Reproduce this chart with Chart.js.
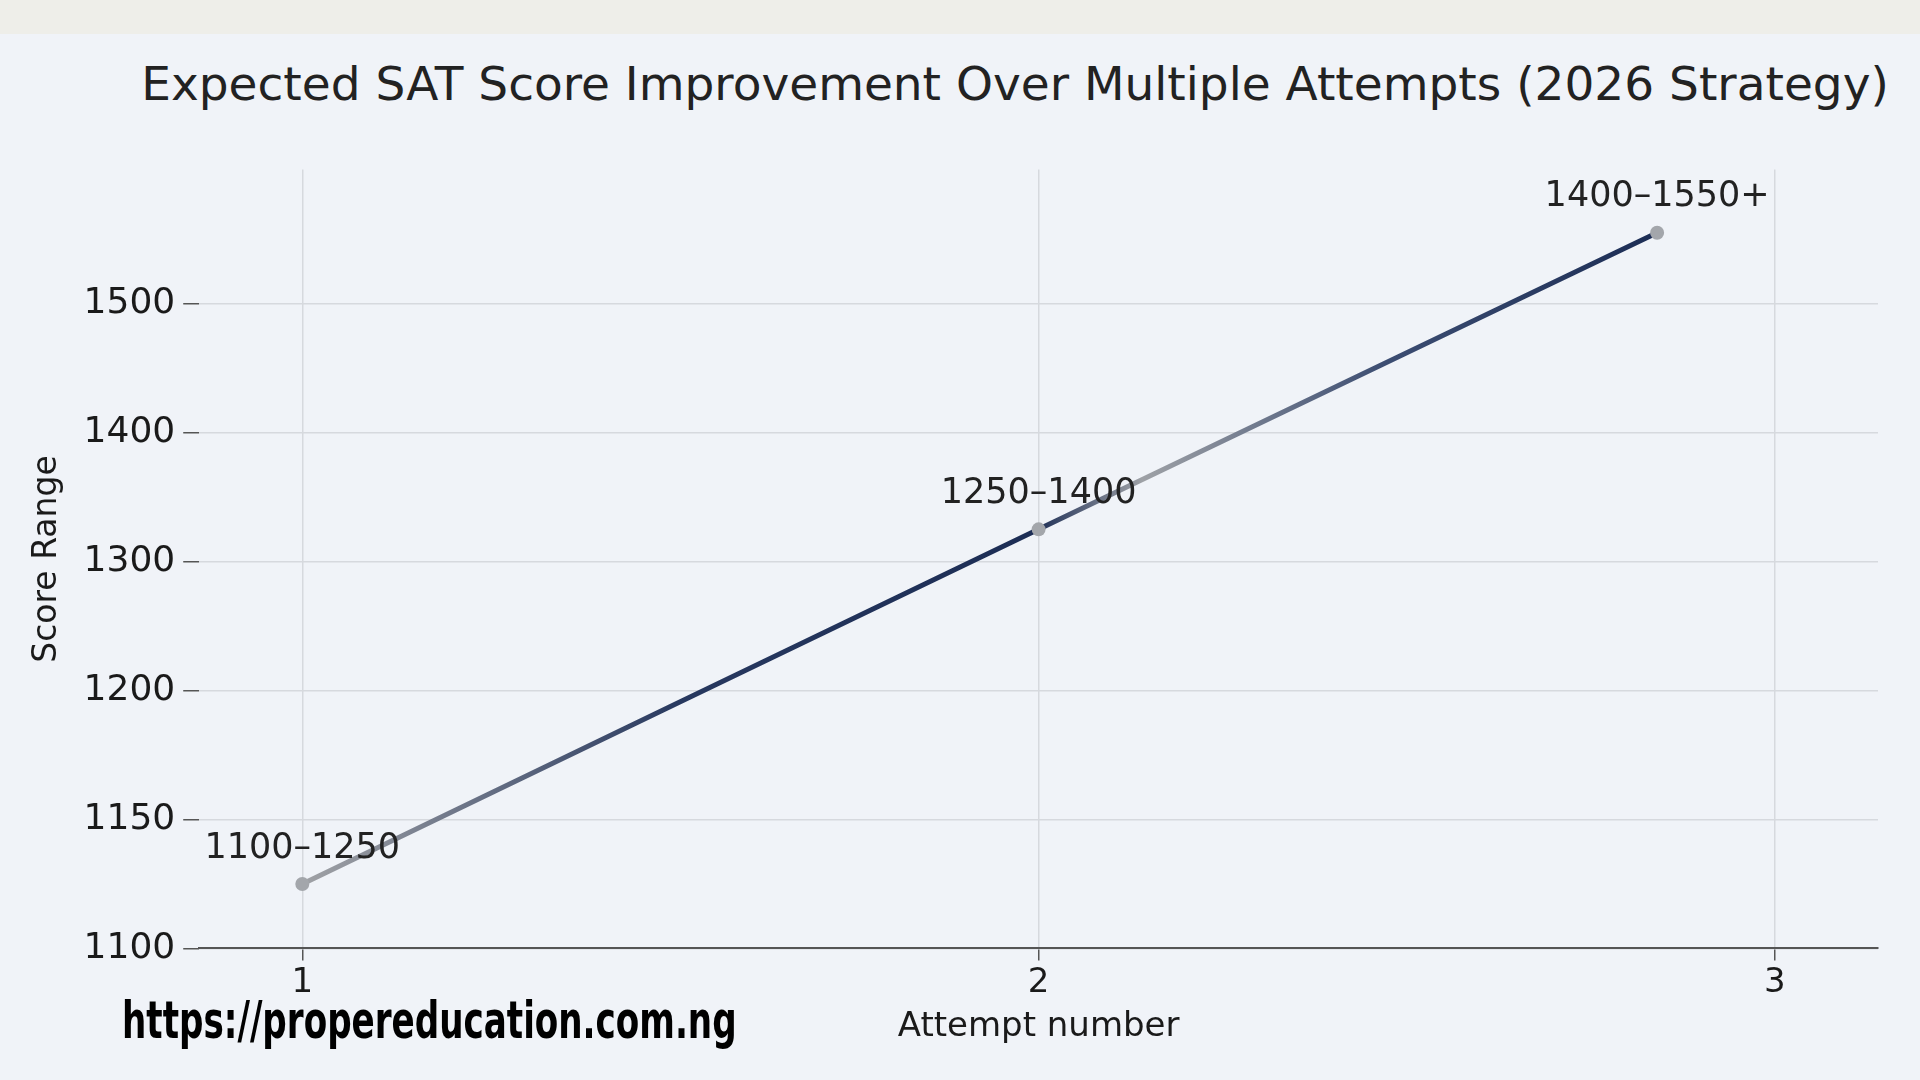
<!DOCTYPE html>
<html><head><meta charset="utf-8">
<script src="https://cdn.jsdelivr.net/npm/chart.js@4"></script>
<style>
html,body{margin:0;padding:0;width:1920px;height:1080px;background:#eeeee9;overflow:hidden;font-family:"DejaVu Sans",sans-serif}
#panel{position:absolute;left:0;top:34px;width:1920px;height:1046px;background:#f0f3f8}
#title{position:absolute;left:0;width:2030px;top:56px;text-align:center;font-size:47px;color:#222;font-family:"DejaVu Sans"}
#wrap{position:absolute;left:24px;top:140px;width:1872px;height:940px}
#wm{position:absolute;left:122px;top:990px;font-family:"Liberation Sans Narrow","DejaVu Sans Condensed",sans-serif;font-weight:bold;font-size:52px;color:#000;transform:scaleX(0.73);transform-origin:left}
</style></head><body>
<div id="panel"></div>
<div id="title">Expected SAT Score Improvement Over Multiple Attempts (2026 Strategy)</div>
<div id="wrap"><canvas id="c"></canvas></div>
<div id="wm">https://propereducation.com.ng</div>
<script>
const attempts=[1,2,2.84];
const scores=[1125,1325,1555];
const rangeLabels=["1100–1250","1250–1400","1400–1550+"];
const yTicks=[1100,1150,1200,1300,1400,1500];
const xTicks=[1,2,3];
function toIdx(v){for(let i=0;i<yTicks.length-1;i++){if(v<=yTicks[i+1])return i+(v-yTicks[i])/(yTicks[i+1]-yTicks[i]);}const n=yTicks.length-1;return n+(v-yTicks[n])/100;}
const pts=attempts.map((a,i)=>({x:a,y:toIdx(scores[i])}));
const labelPlugin={id:'lbl',afterDatasetsDraw(ch){const ctx=ch.ctx;const m=ch.getDatasetMeta(0);ctx.save();ctx.font='35px "DejaVu Sans"';ctx.fillStyle='#222';ctx.textAlign='center';ctx.textBaseline='bottom';m.data.forEach((p,i)=>ctx.fillText(rangeLabels[i],p.x,p.y-18));ctx.restore();}};
const ch=new Chart(document.getElementById('c'),{type:'scatter',
data:{datasets:[{data:pts,showLine:true,tension:0.5,borderWidth:5,pointRadius:7,pointBackgroundColor:'#a3a6ab',pointBorderWidth:0,
borderColor:(c)=>{const a=c.chart.chartArea;if(!a)return '#888';const s=c.chart.scales.x;const g=c.chart.ctx.createLinearGradient(s.getPixelForValue(1),0,s.getPixelForValue(2.84),0);
g.addColorStop(0,'#a0a2a6');g.addColorStop(0.28,'#27385f');g.addColorStop(0.54,'#1c2d55');g.addColorStop(0.62,'#9ea1a6');g.addColorStop(0.8,'#3c4d72');g.addColorStop(1,'#1c2d55');return g;}}]},
options:{responsive:true,maintainAspectRatio:false,animation:false,
layout:{padding:{left:0,right:18,top:4,bottom:28}},
plugins:{legend:{display:false},tooltip:{enabled:false}},
scales:{x:{type:'linear',min:0.86,max:3.14,afterBuildTicks:(s)=>{s.ticks=xTicks.map(v=>({value:v}));},
ticks:{font:{size:34,family:'DejaVu Sans'},color:'#1a1a1a',padding:2},
grid:{color:'#d6d9de',lineWidth:1.5,tickLength:12,tickColor:'#555'},border:{color:'#555',width:2},
title:{display:true,text:'Attempt number',font:{size:34,family:'DejaVu Sans'},color:'#1a1a1a',padding:{top:2}}},
y:{type:'linear',min:0,max:6.04,afterBuildTicks:(s)=>{s.ticks=yTicks.map((v,i)=>({value:i}));},
ticks:{callback:(v)=>yTicks[v],font:{size:36,family:'DejaVu Sans'},color:'#1a1a1a',padding:8},
grid:{color:'#d6d9de',lineWidth:1.5,tickLength:16,tickColor:'#555'},border:{display:false},
title:{display:true,text:'Score Range',font:{size:33,family:'DejaVu Sans'},color:'#1a1a1a',padding:{bottom:8}}}}},
plugins:[labelPlugin]});
</script></body></html>
